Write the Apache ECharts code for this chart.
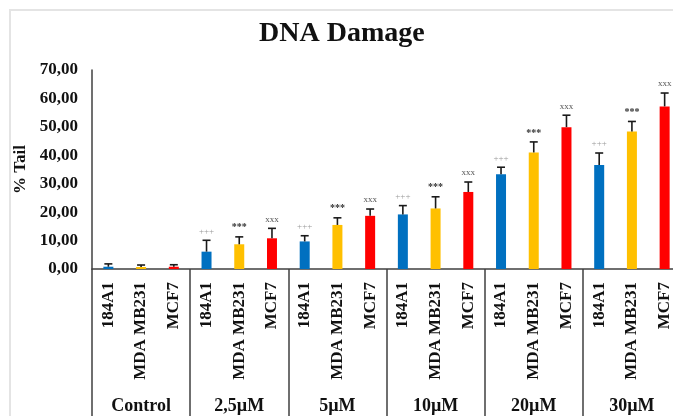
<!DOCTYPE html>
<html>
<head>
<meta charset="utf-8">
<script src="https://cdn.jsdelivr.net/npm/echarts@6/dist/echarts.min.js"></script>
<style>
  html, body { margin: 0; padding: 0; background: #fff; }
  #chart { width: 673px; height: 416px; }
</style>
</head>
<body>
<div id="chart"></div>
<script>
// Treatment groups and the cell lines measured in each
const groups = ['Control', '2,5µM', '5µM', '10µM', '20µM', '30µM'];
const cellLines = ['184A1', 'MDA MB231', 'MCF7'];
const lineColors = ['#0070C0', '#FFC000', '#FF0000'];

// Mean % tail DNA per group, one array per cell line
const tail184A1 = [0.8, 6.1, 9.7, 19.2, 33.3, 36.6];
const tailMDA = [0.7, 8.7, 15.5, 21.3, 41.0, 48.4];
const tailMCF7 = [0.8, 10.8, 18.7, 27.1, 49.9, 57.2];

// Error bar size (upper arm) per group
const err184A1 = [1.0, 4.0, 2.0, 3.1, 2.5, 4.2];
const errMDA = [0.7, 2.6, 2.5, 4.1, 3.7, 3.5];
const errMCF7 = [0.7, 3.5, 2.4, 3.5, 4.2, 4.7];

// Significance marks per group
const sig184A1 = ['', '+++', '+++', '+++', '+++', '+++'];
const sigMDA = ['', '***', '***', '***', '***', '***'];
const sigMCF7 = ['', 'xxx', 'xxx', 'xxx', 'xxx', 'xxx'];

// Y axis tick labels
const yTicks = ['0,00', '10,00', '20,00', '30,00', '40,00', '50,00', '60,00', '70,00'];

// Interleave into one category per (group, cell line)
const cats = [], vals = [], errs = [];
const byLine = [
  [tail184A1, err184A1, sig184A1],
  [tailMDA, errMDA, sigMDA],
  [tailMCF7, errMCF7, sigMCF7]
];
groups.forEach((g, gi) => {
  cellLines.forEach((c, ci) => {
    cats.push(c);
    vals.push({ value: byLine[ci][0][gi], itemStyle: { color: lineColors[ci] } });
    errs.push([cats.length - 1, byLine[ci][0][gi], byLine[ci][1][gi], byLine[ci][2][gi], ci]);
  });
});

const serif = '"Liberation Serif", "Times New Roman", serif';
const sigColors = ['#9a9a9a', '#333333', '#555555'];

const chart = echarts.init(document.getElementById('chart'));
chart.setOption({
  animation: false,
  backgroundColor: '#fff',
  title: {
    text: 'DNA Damage',
    left: 254,
    top: 15,
    textStyle: { fontFamily: serif, fontWeight: 'bold', fontSize: 28, color: '#111' }
  },
  graphic: [{
    type: 'polyline',
    shape: { points: [[10, 416], [10, 10], [673, 10]] },
    style: { stroke: '#e4e4e4', lineWidth: 2, fill: null },
    silent: true
  }],
  // the plot runs a little past the right edge of the canvas
  grid: { left: 92, right: -8, top: 70, bottom: 147, outerBoundsMode: 'none' },
  xAxis: [{
    type: 'category',
    data: cats,
    position: 'bottom',
    axisLine: { lineStyle: { color: '#404040', width: 1.5 } },
    axisTick: { show: false },
    axisLabel: {
      interval: 0,
      rotate: 90,
      margin: 13,
      fontFamily: serif,
      fontWeight: 'bold',
      fontSize: 17,
      color: '#111'
    }
  }, {
    type: 'category',
    data: groups,
    position: 'bottom',
    axisLine: { show: false },
    axisTick: { show: true, length: 150, interval: 0, lineStyle: { color: '#404040', width: 1.5 } },
    axisLabel: {
      interval: 0,
      margin: 128,
      fontFamily: serif,
      fontWeight: 'bold',
      fontSize: 18,
      color: '#111'
    }
  }],
  yAxis: {
    type: 'value',
    min: 0,
    max: 70,
    interval: 10,
    name: '% Tail',
    nameLocation: 'middle',
    nameRotate: 90,
    nameGap: 63,
    nameTextStyle: { fontFamily: serif, fontWeight: 'bold', fontSize: 17, color: '#111' },
    axisLine: { show: true, lineStyle: { color: '#404040', width: 1.5 } },
    axisTick: { show: false },
    splitLine: { show: false },
    axisLabel: {
      margin: 14,
      fontFamily: serif,
      fontWeight: 'bold',
      fontSize: 17,
      color: '#111',
      formatter: (v) => yTicks[Math.round(v / 10)]
    }
  },
  series: [{
    type: 'bar',
    xAxisIndex: 0,
    data: vals,
    barWidth: 10
  }, {
    type: 'custom',
    xAxisIndex: 0,
    data: errs,
    z: 5,
    renderItem: (params, api) => {
      const x = api.value(0);
      const base = api.coord([x, api.value(1)]);
      const top = api.coord([x, api.value(1) + api.value(2)]);
      const ci = api.value(4);
      const mark = errs[params.dataIndex][3];
      const half = 4;
      const st = { stroke: '#1a1a1a', lineWidth: 1.6 };
      const kids = [
        { type: 'line', shape: { x1: base[0], y1: base[1], x2: top[0], y2: top[1] }, style: st },
        { type: 'line', shape: { x1: top[0] - half, y1: top[1], x2: top[0] + half, y2: top[1] }, style: st }
      ];
      if (mark) {
        kids.push({
          type: 'text',
          x: top[0],
          y: top[1] - 9,
          style: {
            text: mark,
            fontFamily: serif,
            fontSize: ci === 1 ? 10 : 9,
            fontWeight: ci === 1 ? 'bold' : 'normal',
            fill: sigColors[ci],
            align: 'center',
            verticalAlign: 'middle'
          }
        });
      }
      return { type: 'group', children: kids };
    }
  }]
});
</script>
</body>
</html>
